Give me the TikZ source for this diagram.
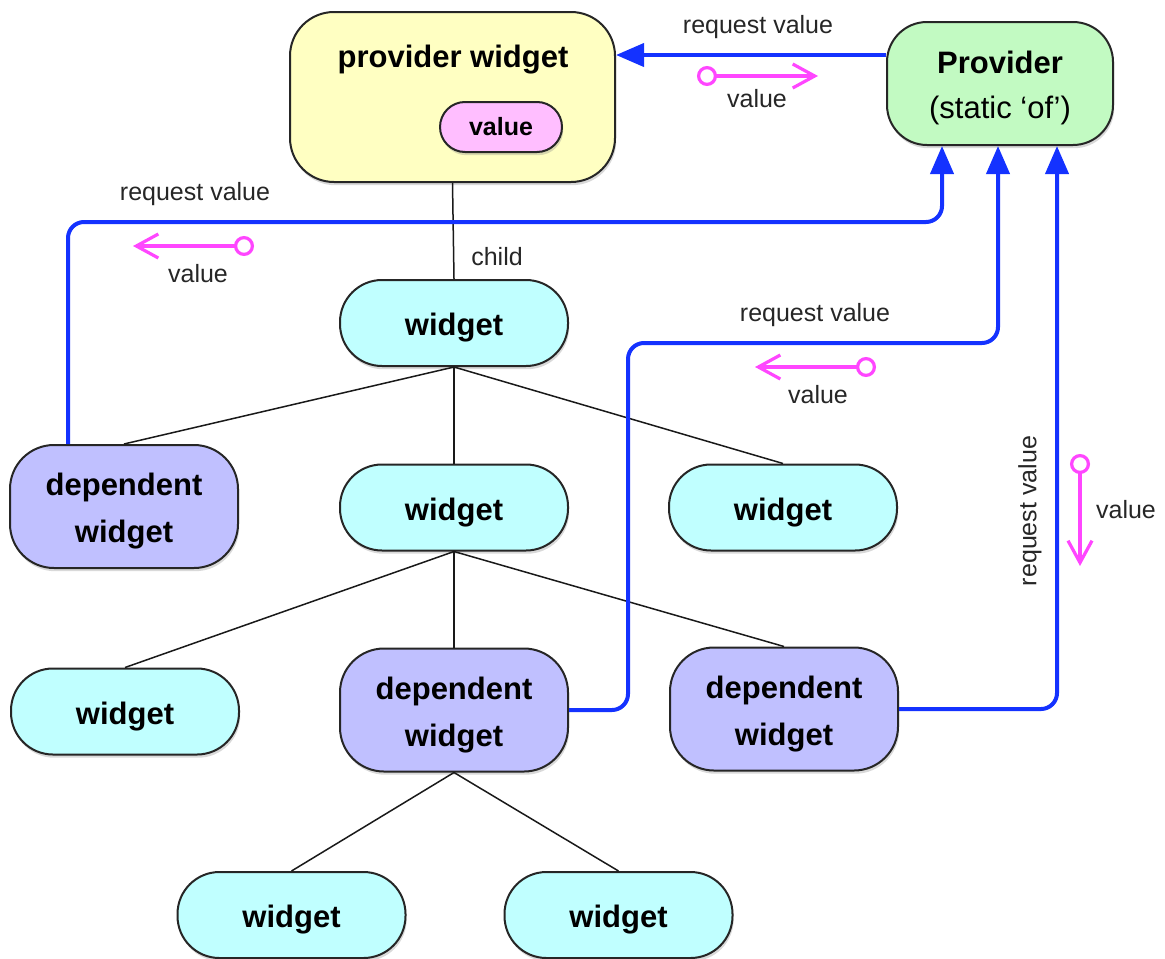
\documentclass[tikz,border=0pt]{standalone}
\usepackage{fontspec}
\setmainfont{Liberation Sans}
\usetikzlibrary{arrows.meta,shadows,calc}
\definecolor{lineblue}{RGB}{20,50,255}
\definecolor{valpink}{RGB}{255,70,255}
\definecolor{yellowfill}{RGB}{255,255,194}
\definecolor{pinkfill}{RGB}{255,190,255}
\definecolor{greenfill}{RGB}{194,250,194}
\definecolor{cyanfill}{RGB}{192,255,255}
\definecolor{lavfill}{RGB}{192,192,255}
\begin{document}
\begin{tikzpicture}[x=0.5pt,y=-0.5pt,
  box/.style={draw=black!85, line width=1pt, align=center, inner sep=0pt,
    drop shadow={shadow xshift=0.6pt, shadow yshift=-1.6pt, opacity=0.3},
    font=\fontsize{15.5}{23.5}\selectfont\bfseries},
  widgetbox/.style={box, fill=cyanfill, minimum width=114pt, minimum height=43pt, rounded corners=21pt,
    text height=16pt, text depth=3.3pt},
  depbox/.style={box, fill=lavfill, minimum width=114pt, minimum height=61.5pt, rounded corners=22pt,
    text height=39.6pt, text depth=3.3pt},
  tree/.style={draw=black!90, line width=0.75pt},
  req/.style={draw=lineblue, line width=2pt, rounded corners=8pt, -{Triangle[length=14pt,width=11.5pt]}},
  valarrow/.style={draw=valpink, line width=1.6pt, {Circle[length=10pt,fill=white]}-{Straight Barb[length=11pt,width=12pt]}},
  lbl/.style={font=\fontsize{12.5}{15}\selectfont, text=black!85}
]
\useasboundingbox (0,0) rectangle (1165,958);

\node[box, fill=yellowfill, minimum width=162.5pt, minimum height=85pt, rounded corners=22pt] (pw) at (452.5,97) {};
\node[font=\fontsize{15.5}{18}\selectfont\bfseries] (pwt) at (453,60) {provider widget};
\node[box, fill=pinkfill, minimum width=61pt, minimum height=25pt, rounded corners=12.5pt, font=\fontsize{12.5}{15}\selectfont\bfseries] (val) at (501,127) {value};

\node[box, fill=greenfill, minimum width=113pt, minimum height=61.5pt, rounded corners=20pt, font=\fontsize{15.5}{22.5}\selectfont,
  text height=38pt, text depth=3.3pt] (prov) at (1000,83.5) {\textbf{Provider}\\(static ‘of’)};

\node[widgetbox] (w1) at (454,323) {widget};
\node[depbox] (depL) at (124,506.5) {dependent\\widget};
\node[widgetbox] (w2) at (454,507.5) {widget};
\node[widgetbox] (wR) at (783,507.5) {widget};
\node[widgetbox] (wBL) at (125,711.5) {widget};
\node[depbox] (depM) at (454,710) {dependent\\widget};
\node[depbox] (depR) at (784,709) {dependent\\widget};
\node[widgetbox] (wB1) at (291.5,915) {widget};
\node[widgetbox] (wB2) at (618.5,915) {widget};

\draw[tree] (pw.south) -- (w1.north);
\draw[tree] (w1.south) -- (depL.north);
\draw[tree] (w1.south) -- (w2.north);
\draw[tree] (w1.south) -- (wR.north);
\draw[tree] (w2.south) -- (wBL.north);
\draw[tree] (w2.south) -- (depM.north);
\draw[tree] (w2.south) -- (depR.north);
\draw[tree] (depM.south) -- (wB1.north);
\draw[tree] (depM.south) -- (wB2.north);
\node[lbl] (childlbl) at (497,257) {child};

% request connectors
\draw[req] (prov.west |- 0,55) -- (pw.east |- 0,55);
\draw[req] (depL.north -| 68,0) -- (68,222) -- (942,222) -- (prov.south -| 942,0);
\draw[req] (depM.east) -- (628,710) -- (628,343) -- (998,343) -- (prov.south -| 998,0);
\draw[req] (depR.east) -- (1057,709) -- (prov.south -| 1057,0);

\node[lbl] (rq1) at (758,27) {request value};
\node[lbl] (rq2) at (195,194) {request value};
\node[lbl] (rq3) at (815,315) {request value};
\node[lbl, rotate=90] (rq4) at (1030,511) {request value};

% value arrows
\coordinate (v1s) at (697,76); \coordinate (v1e) at (818,76);
\coordinate (v2s) at (254,246); \coordinate (v2e) at (133,246);
\coordinate (v3s) at (876,367); \coordinate (v3e) at (755,367);
\coordinate (v4s) at (1080,454); \coordinate (v4e) at (1080,566);
\draw[valarrow] (v1s) -- (v1e);
\draw[valarrow] (v2s) -- (v2e);
\draw[valarrow] (v3s) -- (v3e);
\draw[valarrow] (v4s) -- (v4e);

\node[lbl] (vl1) at (757,99) {value};
\node[lbl] (vl2) at (198,274) {value};
\node[lbl] (vl3) at (818,395) {value};
\node[lbl] (vl4) at (1126,510) {value};
\end{tikzpicture}
\end{document}
